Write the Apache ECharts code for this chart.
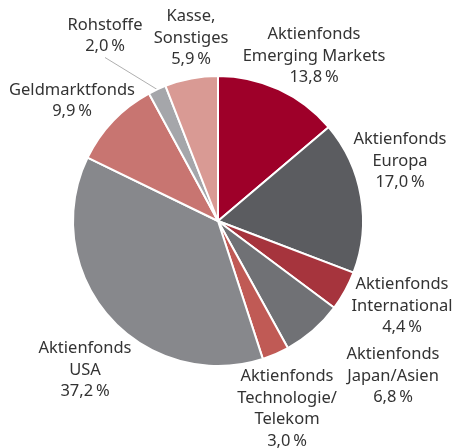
<!DOCTYPE html>
<html>
<head>
<meta charset="utf-8">
<script src="https://cdn.jsdelivr.net/npm/echarts@6/dist/echarts.min.js"></script>
<style>
  html, body { margin: 0; padding: 0; background: #fff; }
  #chart { width: 453px; height: 448px; }
</style>
</head>
<body>
<div id="chart"></div>
<script>
const names = [
  'Aktienfonds\nEmerging Markets',
  'Aktienfonds\nEuropa',
  'Aktienfonds\nInternational',
  'Aktienfonds\nJapan/Asien',
  'Aktienfonds\nTechnologie/\nTelekom',
  'Aktienfonds\nUSA',
  'Geldmarktfonds',
  'Rohstoffe',
  'Kasse,\nSonstiges'
];
const shares = [13.8, 17.0, 4.4, 6.8, 3.0, 37.2, 9.9, 2.0, 5.9];
const colors = ['#9e0029', '#5b5c60', '#a6343d', '#707175', '#c05a55', '#87888c', '#c87571', '#a5a6aa', '#d99a94'];
// label centres in px
const labelPos = [[314, 56], [400, 161], [402, 306], [393, 376], [287, 409], [85, 370], [72, 101], [105, 36], [191, 38]];

const chart = echarts.init(document.getElementById('chart'));
chart.setOption({
  animation: false,
  series: [{
    type: 'pie',
    center: [218, 221],
    radius: 145,
    startAngle: 90,
    clockwise: true,
    itemStyle: { borderColor: '#fff', borderWidth: 2 },
    label: {
      show: true,
      position: 'outside',
      color: '#333',
      fontFamily: 'Noto Sans',
      fontSize: 16.5,
      lineHeight: 21.5,
      align: 'center',
      overflow: 'none',
      width: 200,
      formatter: function (p) {
        return p.name + '\n' + p.value.toFixed(1).replace('.', ',') + '\u202f%';
      }
    },
    labelLine: { show: false },
    labelLayout: function (p) {
      const pos = labelPos[p.dataIndex];
      return { x: pos[0], y: pos[1], align: 'center', verticalAlign: 'middle' };
    },
    data: shares.map(function (v, i) {
      const item = { name: names[i], value: v, itemStyle: { color: colors[i] } };
      if (i === 7) {
        item.labelLine = { show: true, length: 10, length2: 0, lineStyle: { color: '#9a9a9a', width: 0.8 } };
      }
      return item;
    })
  }]
});
</script>
</body>
</html>
